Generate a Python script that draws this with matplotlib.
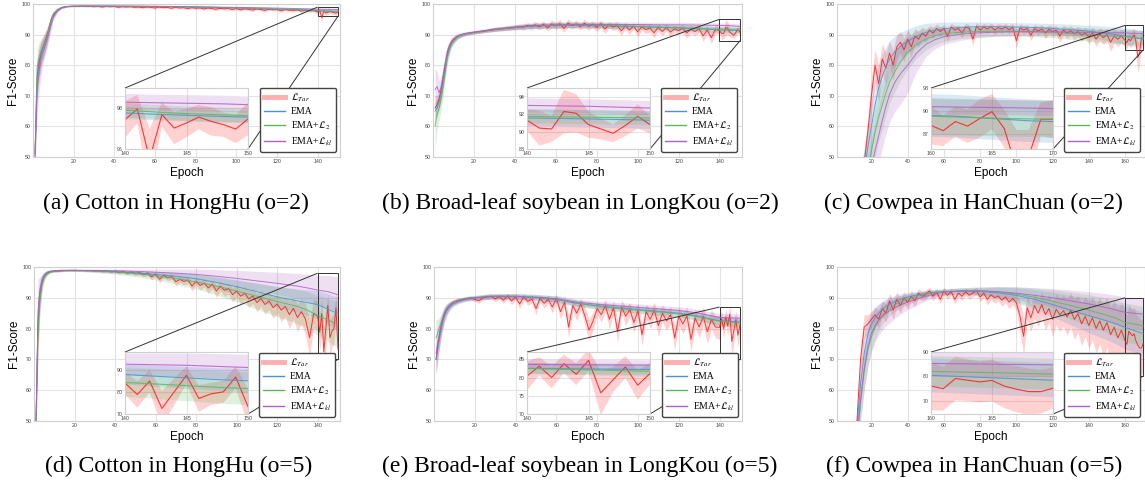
import matplotlib
matplotlib.use("Agg")
import matplotlib.pyplot as plt
from matplotlib.lines import Line2D
from mpl_toolkits.axes_grid1.inset_locator import mark_inset
import numpy as np

plt.rcParams["font.family"] = "Liberation Sans"
plt.rcParams["mathtext.fontset"] = "stix"

# ---------------- data ----------------
# epochs of the smooth curves (EMA, EMA+L2, EMA+Lkl)
ep150 = [1, 2, 3, 4, 5, 6, 7, 8, 9, 10, 12, 14, 16, 18, 20, 25, 30, 40, 50, 60, 70, 80, 90, 100, 110, 120, 130, 135,
         140, 141, 142, 143, 144, 145, 146, 147, 148, 149, 150]
ep170 = [1, 5, 10, 12, 14, 16, 18, 20, 22, 24, 26, 28, 30, 33, 36, 40, 45, 50, 55, 60, 70, 80, 90, 100, 110, 120, 130, 140, 150, 155,
         160, 161, 162, 163, 164, 165, 166, 167, 168, 169, 170]
# epochs of the L_Tar curve
ep_tar150 = list(range(1, 11)) + list(range(12, 140, 2)) + list(range(140, 151))
ep_tar170 = [1] + list(range(2, 160, 2)) + list(range(160, 171))

# (a) Cotton in HongHu (o=2)
a_ema = [50, 74, 80, 83.5, 85.5, 87.5, 89.5, 92, 94.5, 96.3, 98.0, 98.8, 99.1, 99.25, 99.3, 99.35, 99.35, 99.3, 99.25, 99.2, 99.1, 99.0, 98.9, 98.7, 98.5, 98.3, 98.1, 97.95,
         97.77, 97.75, 97.72, 97.7, 97.68, 97.66, 97.64, 97.62, 97.6, 97.58, 97.57]
a_ema_sd = [3, 6, 5, 4, 3.5, 3, 2.5, 2, 1.5, 1, 0.5, 0.3, 0.2, 0.15, 0.1, 0.1, 0.1, 0.1, 0.1, 0.1, 0.15, 0.15, 0.2, 0.2, 0.2, 0.25, 0.25, 0.3,
            0.3, 0.3, 0.3, 0.3, 0.3, 0.3, 0.3, 0.3, 0.3, 0.3, 0.3]
a_l2 = [52, 79.5, 82.5, 84.5, 86, 87.5, 89.5, 92.5, 95, 96.8, 98.2, 98.9, 99.15, 99.25, 99.3, 99.35, 99.35, 99.3, 99.25, 99.2, 99.1, 99.0, 98.9, 98.75, 98.55, 98.35, 98.15, 98.0,
        97.9, 97.87, 97.84, 97.8, 97.77, 97.74, 97.72, 97.7, 97.68, 97.66, 97.64]
a_l2_sd = [3, 6, 5, 4, 3.5, 3, 2.5, 2, 1.5, 1, 0.5, 0.3, 0.2, 0.15, 0.1, 0.1, 0.1, 0.1, 0.1, 0.1, 0.15, 0.15, 0.2, 0.2, 0.25, 0.25, 0.3, 0.3,
           0.35, 0.35, 0.35, 0.35, 0.35, 0.35, 0.35, 0.35, 0.35, 0.35, 0.35]
a_kl = [50, 72, 78, 82, 84.5, 86.5, 88.5, 91, 93.5, 95.8, 97.8, 98.7, 99.1, 99.25, 99.3, 99.35, 99.35, 99.32, 99.3, 99.25, 99.2, 99.1, 99.0, 98.9, 98.8, 98.65, 98.5, 98.4,
        98.3, 98.29, 98.28, 98.27, 98.26, 98.25, 98.24, 98.23, 98.22, 98.2, 98.18]
a_kl_sd = [3, 9, 7, 5, 4, 3.5, 3, 2.5, 2, 1.2, 0.6, 0.3, 0.2, 0.15, 0.1, 0.1, 0.1, 0.1, 0.1, 0.15, 0.15, 0.2, 0.2, 0.25, 0.3, 0.3, 0.35, 0.4,
           0.4, 0.4, 0.4, 0.4, 0.4, 0.4, 0.4, 0.4, 0.4, 0.4, 0.4]
a_tar = [51, 76, 81, 84, 86, 88, 90, 92.5, 95, 96.5,
         98.0, 98.8, 99.1, 99.2, 99.25, 99.2, 99.3, 99.2, 99.25, 99.1,
         99.2, 99.0, 99.2, 99.1, 99.2, 98.9, 99.1, 99.0, 99.1, 98.9,
         99.0, 98.8, 99.0, 98.9, 98.7, 99.0, 98.8, 98.9, 98.6, 98.9,
         98.7, 98.8, 98.5, 98.8, 98.6, 98.7, 98.4, 98.7, 98.5, 98.3,
         98.6, 98.4, 98.5, 98.2, 98.5, 98.1, 98.4, 98.3, 98.0, 98.4,
         98.2, 97.9, 98.3, 98.1, 98.2, 97.8, 98.2, 98.0, 97.9, 98.1,
         97.7, 98.0, 97.8, 97.9,
         97.44, 97.97, 95.5, 97.69, 97.03, 97.28, 97.57, 97.36, 97.2, 96.98, 97.48]
a_tar_sd = [3, 6, 5, 4, 3.5, 3, 2.5, 2, 1.5, 1,
            0.5, 0.3, 0.2, 0.2, 0.2, 0.2, 0.2, 0.2, 0.2, 0.2,
            0.2, 0.3, 0.2, 0.3, 0.2, 0.3, 0.2, 0.3, 0.2, 0.3,
            0.3, 0.3, 0.3, 0.3, 0.4, 0.3, 0.3, 0.3, 0.4, 0.3,
            0.3, 0.3, 0.4, 0.3, 0.4, 0.3, 0.5, 0.3, 0.4, 0.5,
            0.3, 0.4, 0.4, 0.5, 0.4, 0.5, 0.4, 0.4, 0.5, 0.4,
            0.4, 0.5, 0.4, 0.4, 0.4, 0.6, 0.4, 0.5, 0.5, 0.4,
            0.6, 0.5, 0.5, 0.5,
            0.9, 0.7, 1.5, 0.6, 0.8, 0.7, 0.6, 0.7, 0.6, 0.7, 0.8]

# (b) Broad-leaf soybean in LongKou (o=2)
b_ema = [65, 66, 68, 71, 75, 79, 83, 85.5, 87, 88, 89.3, 89.9, 90.2, 90.5, 90.7, 91.2, 91.7, 92.3, 92.8, 93.0, 93.1, 93.0, 92.8, 92.6, 92.4, 92.1, 91.9, 91.7,
         91.56, 91.54, 91.52, 91.5, 91.48, 91.45, 91.42, 91.4, 91.37, 91.34, 91.3]
b_ema_sd = [3, 3, 3, 3, 3, 2.5, 2, 1.5, 1.2, 1, 0.8, 0.6, 0.5, 0.5, 0.5, 0.5, 0.6, 0.7, 0.8, 0.9, 0.9, 0.9, 0.9, 0.9, 0.9, 0.9, 1.0, 1.0,
            1.0, 1.0, 1.0, 1.0, 1.0, 1.0, 1.0, 1.0, 1.0, 1.0, 1.0]
b_l2 = [60, 64, 66, 69, 73, 78, 82.5, 85, 86.8, 87.8, 89.2, 89.9, 90.2, 90.5, 90.7, 91.2, 91.7, 92.4, 92.9, 93.1, 93.2, 93.1, 92.9, 92.7, 92.5, 92.3, 92.1, 91.9,
        91.75, 91.73, 91.71, 91.69, 91.67, 91.65, 91.63, 91.61, 91.6, 91.58, 91.56]
b_l2_sd = [8, 5, 4, 3.5, 3, 2.5, 2, 1.5, 1.2, 1, 0.8, 0.6, 0.5, 0.5, 0.5, 0.5, 0.6, 0.7, 0.8, 0.9, 0.9, 0.9, 0.9, 0.9, 0.9, 0.9, 0.9, 0.8,
           0.8, 0.8, 0.8, 0.8, 0.8, 0.8, 0.8, 0.8, 0.8, 0.8, 0.8]
b_kl = [72, 73, 71, 73, 77, 81, 84.5, 86.5, 87.8, 88.6, 89.6, 90.1, 90.4, 90.6, 90.8, 91.3, 91.8, 92.5, 93.0, 93.2, 93.3, 93.3, 93.3, 93.3, 93.2, 93.2, 93.1, 93.05,
        93.0, 92.98, 92.96, 92.94, 92.92, 92.9, 92.86, 92.82, 92.78, 92.74, 92.7]
b_kl_sd = [7, 5, 4, 3.5, 3, 2.5, 2, 1.5, 1.2, 1, 0.8, 0.7, 0.6, 0.6, 0.6, 0.6, 0.7, 0.8, 0.9, 0.9, 0.9, 0.9, 0.9, 0.8, 0.8, 0.8, 0.8, 0.8,
           0.8, 0.8, 0.8, 0.8, 0.8, 0.8, 0.8, 0.8, 0.8, 0.8, 0.8]
b_tar = [66, 67, 69, 72, 76, 80, 84, 86, 87.5, 88.4,
         89.4, 89.9, 90.3, 90.5, 90.7, 90.9, 91.0, 91.2, 91.4, 91.6,
         91.8, 91.9, 92.0, 92.2, 92.3, 92.6, 92.4, 93.0, 92.6, 93.2,
         92.5, 93.4, 92.2, 93.5, 92.8, 93.6, 92.0, 93.8, 92.9, 93.5,
         92.6, 93.7, 92.7, 93.4, 92.3, 93.6, 91.8, 93.2, 92.5, 93.0,
         91.2, 92.9, 91.5, 92.8, 90.9, 92.6, 91.6, 92.2, 90.6, 92.4,
         91.0, 92.3, 90.8, 91.9, 91.3, 92.1, 90.5, 91.8, 91.0, 91.9,
         89.6, 91.5, 89.0, 91.7,
         91.3, 90.4, 90.3, 92.3, 92.1, 90.8, 90.3, 89.8, 90.7, 91.75, 90.8]
b_tar_sd = [4, 3, 3, 3, 3, 2.5, 2, 1.5, 1.2, 1,
            0.7, 0.6, 0.5, 0.5, 0.5, 0.5, 0.5, 0.5, 0.6, 0.6,
            0.6, 0.7, 0.7, 0.7, 0.8, 0.8, 1.0, 0.9, 1.0, 1.1,
            1.0, 1.2, 1.0, 1.3, 1.1, 1.4, 1.2, 1.3, 1.1, 1.2,
            1.0, 1.3, 1.2, 1.1, 1.3, 1.2, 1.4, 1.1, 1.2, 1.3,
            1.5, 1.2, 1.4, 1.1, 1.6, 1.2, 1.3, 1.4, 1.5, 1.2,
            1.3, 1.2, 1.5, 1.3, 1.2, 1.4, 1.6, 1.3, 1.4, 1.2,
            1.8, 1.3, 1.9, 1.4,
            1.2, 2.0, 1.5, 2.5, 2.2, 1.5, 1.2, 1.0, 1.2, 1.4, 1.0]

# (c) Cowpea in HanChuan (o=2)
c_ema = [10, 20, 30, 35, 40, 46, 53, 60, 67, 72.5, 76.5, 79.5, 82, 84.5, 86.2, 87.8, 89.5, 90.7, 91.4, 91.9, 92.4, 92.6, 92.6, 92.5, 92.3, 92.0, 91.6, 91.1, 90.4, 90.0,
         89.4, 89.35, 89.3, 89.2, 89.1, 89.0, 88.9, 88.8, 88.7, 88.65, 88.6]
c_ema_sd = [5, 5, 5, 5, 6, 7, 8, 8, 8, 8, 7, 6.5, 6, 5, 4.5, 4, 3.5, 3, 2.5, 2.2, 1.8, 1.5, 1.4, 1.4, 1.5, 1.6, 1.8, 2.0, 2.3, 2.5,
            2.8, 2.8, 2.8, 2.8, 2.8, 2.8, 2.8, 2.8, 2.8, 2.8, 2.8]
c_l2 = [8, 15, 25, 30, 35, 40, 46, 52, 58, 63, 67, 71, 74.5, 78, 81, 84.2, 86.8, 88.5, 89.6, 90.3, 90.8, 91.0, 91.1, 91.1, 91.0, 90.8, 90.4, 90.0, 89.6, 89.5,
        89.3, 89.25, 89.2, 89.15, 89.1, 89.05, 89.0, 88.98, 88.95, 88.92, 88.9]
c_l2_sd = [5, 5, 5, 5, 6, 7, 8, 8, 8, 8, 8, 7.5, 7, 6.5, 6, 5.5, 4.5, 3.5, 3, 2.5, 2, 1.8, 1.6, 1.6, 1.7, 1.8, 2, 2.2, 2.3, 2.4,
           2.4, 2.4, 2.4, 2.4, 2.4, 2.4, 2.4, 2.4, 2.4, 2.4, 2.4]
c_kl = [5, 12, 22, 27, 32, 37, 42, 47, 52, 57, 62, 66.5, 70.5, 74.5, 77.2, 80, 84, 86.8, 88.3, 89.3, 90.2, 90.6, 90.8, 90.9, 90.9, 90.9, 90.8, 90.7, 90.6, 90.6,
        90.56, 90.53, 90.5, 90.48, 90.46, 90.44, 90.42, 90.4, 90.37, 90.34, 90.3]
c_kl_sd = [6, 6, 6, 6, 7, 8, 9, 9, 9, 9, 9, 9, 9, 9.5, 10, 9, 6, 4, 3, 2.5, 2, 1.5, 1.3, 1.2, 1.1, 1, 1, 1, 1, 1,
           1, 1, 1, 1, 1, 1, 1, 1, 1, 1, 1]
c_tar = [10,
         12, 15, 20, 25, 30, 35, 40,
         48, 58, 70, 80, 74, 82, 79, 84, 80, 86,
         87.5, 85, 88.5, 86, 89.5, 88.5, 90.5, 89.5, 91.5, 90.5,
         92, 91, 92, 89.5, 92.5, 91.5, 92, 90.5, 92.5, 92,
         88.5, 92.8, 91.5, 92.5, 91.8, 92.6, 91.5, 92.3, 91.8, 92.5,
         91.6, 92.4, 88, 92.2, 91.5, 92, 89.8, 92, 91.2, 91.8,
         90.5, 91.7, 91, 91.4, 89.5, 91.5, 90.5, 91.3, 90.2, 91,
         89.8, 90.6, 89.2, 90.5, 88.5, 90.2, 89, 90, 87.5, 89.5,
         88.5, 89.5,
         88.1, 87.4, 88.6, 88.0, 89.0, 89.9, 87.7, 82.5, 84.0, 88.9, 88.9]
c_tar_sd = [3,
            3, 3, 3, 3, 3, 3, 3,
            4, 5, 6, 5, 6, 5, 5, 4, 5, 4,
            3.5, 4, 3, 3.5, 2.5, 2.5, 2, 2, 1.5, 1.8,
            1.5, 1.5, 1.2, 2, 1.2, 1.4, 1.2, 1.6, 1.2, 1.3,
            2.2, 1.2, 1.4, 1.2, 1.3, 1.2, 1.5, 1.3, 1.4, 1.2,
            1.4, 1.3, 2.5, 1.3, 1.4, 1.3, 1.8, 1.4, 1.5, 1.4,
            1.8, 1.5, 1.6, 1.5, 2.0, 1.6, 1.8, 1.6, 1.8, 1.7,
            2.0, 1.8, 2.2, 1.9, 2.4, 2.0, 2.2, 2.0, 3.0, 2.2,
            2.4, 2.2,
            2.5, 2.0, 2.0, 2.2, 2.5, 2.3, 2.5, 5.0, 3.5, 2.2, 2.5]

# (d) Cotton in HongHu (o=5)
d_ema = [50, 84, 92, 95.5, 97, 97.8, 98.2, 98.5, 98.6, 98.7, 98.8, 98.85, 98.9, 98.9, 98.9, 98.85, 98.8, 98.5, 98.1, 97.6, 97.0, 96.2, 95.0, 93.6, 92.0, 90.3, 89.0, 88.4,
         87.8, 87.5, 87.2, 86.9, 86.6, 86.3, 86.0, 85.7, 85.4, 85.2, 85.0]
d_ema_sd = [3, 8, 4, 2, 1, 0.6, 0.4, 0.3, 0.3, 0.3, 0.3, 0.3, 0.3, 0.3, 0.3, 0.3, 0.4, 0.5, 0.7, 0.9, 1.2, 1.5, 1.9, 2.3, 2.8, 3.3, 3.8, 4.2,
            4.5, 4.6, 4.7, 4.8, 4.9, 5.0, 5.0, 5.1, 5.2, 5.3, 5.4]
d_l2 = [50, 80, 90, 94.5, 96.5, 97.5, 98.0, 98.3, 98.5, 98.6, 98.7, 98.8, 98.85, 98.85, 98.85, 98.8, 98.7, 98.4, 97.9, 97.2, 96.3, 95.2, 93.8, 92.2, 90.5, 88.8, 87.2, 86.0,
        84.2, 84.0, 83.7, 83.4, 83.1, 82.8, 82.5, 82.2, 81.9, 81.7, 81.5]
d_l2_sd = [3, 10, 5, 2.5, 1.2, 0.7, 0.5, 0.4, 0.3, 0.3, 0.3, 0.3, 0.3, 0.3, 0.3, 0.4, 0.5, 0.7, 1.0, 1.4, 1.8, 2.3, 2.9, 3.5, 4.2, 4.9, 5.6, 6.0,
           6.5, 6.6, 6.7, 6.8, 6.9, 7.0, 7.1, 7.2, 7.3, 7.4, 7.5]
d_kl = [50, 86, 93, 96, 97.5, 98.2, 98.5, 98.7, 98.8, 98.85, 98.9, 98.95, 98.95, 98.95, 98.95, 98.9, 98.9, 98.8, 98.6, 98.3, 98.0, 97.6, 97.0, 96.3, 95.5, 94.7, 93.8, 93.2,
        92.5, 92.4, 92.3, 92.2, 92.1, 92.0, 91.8, 91.6, 91.4, 91.2, 91.0]
d_kl_sd = [3, 10, 4, 1.5, 0.8, 0.5, 0.4, 0.3, 0.3, 0.3, 0.3, 0.3, 0.3, 0.3, 0.3, 0.3, 0.4, 0.5, 0.7, 1.0, 1.3, 1.7, 2.1, 2.6, 3.1, 3.6, 4.1, 4.5,
           4.8, 4.9, 5.0, 5.1, 5.2, 5.3, 5.4, 5.5, 5.6, 5.7, 5.8]
d_tar = [50, 82, 91, 95, 96.8, 97.6, 98.1, 98.4, 98.5, 98.6,
         98.7, 98.8, 98.85, 98.9, 98.9, 98.85, 98.9, 98.8, 98.85, 98.7,
         98.8, 98.5, 98.7, 98.4, 98.6, 98.2, 98.5, 98.0, 98.4, 97.8,
         98.2, 97.5, 98.0, 96.8, 97.7, 96.0, 97.3, 96.5, 96.9, 95.2,
         96.0, 95.3, 95.8, 93.8, 95.4, 94.0, 94.8, 93.2, 94.4, 92.2,
         93.8, 92.4, 93.0, 91.0, 92.2, 90.5, 91.5, 89.6, 90.6, 88.4,
         89.8, 87.8, 89.0, 86.8, 88.0, 86.0, 87.2, 84.5, 86.6, 83.6,
         85.5, 83.0, 77.0, 85.0,
         84.0, 78.8, 84.9, 72.5, 80.0, 87.5, 77.0, 79.1, 80.0, 86.7, 73.3]
d_tar_sd = [3, 8, 4, 2, 1, 0.6, 0.4, 0.3, 0.3, 0.3,
            0.3, 0.3, 0.3, 0.3, 0.3, 0.3, 0.3, 0.3, 0.3, 0.3,
            0.3, 0.4, 0.3, 0.4, 0.4, 0.5, 0.4, 0.5, 0.5, 0.6,
            0.5, 0.7, 0.6, 1.0, 0.7, 1.2, 0.8, 1.0, 0.9, 1.4,
            1.0, 1.2, 1.1, 1.6, 1.2, 1.5, 1.3, 1.8, 1.4, 2.0,
            1.6, 1.9, 1.8, 2.3, 2.0, 2.5, 2.2, 2.8, 2.4, 3.0,
            2.6, 3.2, 2.8, 3.5, 3.0, 3.8, 3.2, 4.5, 3.5, 4.5,
            4.0, 5.0, 6.0, 4.5,
            5.0, 6.0, 5.0, 8.0, 6.0, 4.0, 6.0, 5.0, 5.0, 5.0, 8.0]

# (e) Broad-leaf soybean in LongKou (o=5)
e_ema = [70, 74, 78, 81.5, 84, 85.5, 86.5, 87.2, 87.8, 88.2, 88.8, 89.2, 89.5, 89.7, 89.9, 90.2, 90.4, 90.3, 90.0, 89.4, 88.2, 87.4, 86.8, 86.2, 85.6, 85.0, 84.0, 83.2,
         82.5, 82.47, 82.44, 82.41, 82.38, 82.35, 82.32, 82.29, 82.26, 82.23, 82.2]
e_ema_sd = [5, 4, 3.5, 3, 2.5, 2, 1.5, 1.2, 1, 0.9, 0.8, 0.7, 0.7, 0.7, 0.7, 0.8, 0.8, 0.9, 0.9, 1.0, 1.0, 1.0, 1.1, 1.1, 1.2, 1.2, 1.3, 1.4,
            1.5, 1.5, 1.5, 1.5, 1.5, 1.5, 1.5, 1.5, 1.5, 1.5, 1.5]
e_l2 = [77, 79, 81, 83, 85, 86.3, 87.2, 87.8, 88.3, 88.7, 89.2, 89.5, 89.8, 90.0, 90.1, 90.4, 90.6, 90.5, 90.2, 89.6, 88.3, 87.3, 86.6, 86.0, 85.4, 84.8, 83.8, 83.0,
        82.5, 82.42, 82.34, 82.26, 82.18, 82.1, 82.02, 81.94, 81.86, 81.78, 81.7]
e_l2_sd = [6, 4, 3, 2.5, 2, 1.6, 1.3, 1.1, 1, 0.9, 0.8, 0.7, 0.7, 0.7, 0.7, 0.8, 0.8, 0.9, 0.9, 1.0, 1.0, 1.0, 1.1, 1.1, 1.2, 1.2, 1.3, 1.4,
           1.5, 1.5, 1.5, 1.5, 1.5, 1.5, 1.5, 1.5, 1.5, 1.5, 1.5]
e_kl = [72, 76, 79.5, 82.5, 84.5, 86, 87, 87.7, 88.2, 88.6, 89.1, 89.4, 89.7, 89.9, 90.0, 90.3, 90.5, 90.5, 90.2, 89.7, 88.6, 87.9, 87.4, 86.9, 86.4, 85.9, 85.0, 84.3,
        83.6, 83.58, 83.56, 83.54, 83.52, 83.5, 83.48, 83.46, 83.44, 83.42, 83.4]
e_kl_sd = [7, 5, 4, 3, 2.5, 2, 1.5, 1.2, 1, 0.9, 0.8, 0.7, 0.7, 0.7, 0.7, 0.8, 0.8, 0.9, 0.9, 1.0, 1.0, 1.0, 1.1, 1.1, 1.1, 1.2, 1.2, 1.2,
           1.3, 1.3, 1.3, 1.3, 1.3, 1.3, 1.3, 1.3, 1.3, 1.3, 1.3]
e_tar = [70, 75, 79, 82, 84.5, 86, 87, 87.8, 88.3, 88.7,
         89.2, 89.5, 89.8, 89.9, 89.5, 89.0, 90.0, 90.3, 90.5, 89.6,
         90.4, 89.2, 90.6, 89.0, 90.2, 88.0, 90.3, 88.8, 89.6, 86.5,
         89.8, 88.2, 89.5, 87.0, 89.8, 85.5, 88.5, 80.5, 87.5, 85.0,
         88.0, 84.0, 79.5, 82.5, 86.5, 84.5, 87.5, 83.0, 86.8, 79.0,
         87.0, 84.0, 86.2, 82.0, 85.8, 78.0, 85.5, 83.0, 86.0, 81.0,
         85.0, 82.5, 84.5, 77.0, 84.0, 81.5, 84.2, 76.5, 83.5, 80.5,
         84.0, 79.0, 83.0, 80.5,
         80.4, 83.1, 80.0, 83.8, 80.9, 84.7, 75.8, 79.4, 82.9, 77.9, 81.1]
e_tar_sd = [4, 3.5, 3, 2.5, 2, 1.5, 1.2, 1, 0.9, 0.8,
            0.7, 0.6, 0.6, 0.6, 0.7, 0.8, 0.7, 0.8, 0.8, 0.9,
            0.8, 1.0, 0.9, 1.2, 1.0, 1.5, 1.0, 1.3, 1.2, 2.0,
            1.2, 1.5, 1.3, 2.0, 1.4, 2.5, 1.5, 3.5, 1.8, 2.5,
            1.8, 3.0, 3.5, 3.0, 2.0, 2.5, 2.0, 3.0, 2.2, 3.5,
            2.2, 3.0, 2.2, 3.2, 2.5, 3.5, 2.5, 3.0, 2.5, 3.5,
            2.8, 3.0, 2.8, 3.8, 2.8, 3.2, 3.0, 4.0, 3.0, 3.5,
            3.0, 3.8, 3.2, 3.5,
            4, 2.5, 3, 2.5, 3, 3, 6, 3.5, 3, 4, 3]

# (f) Cowpea in HanChuan (o=5)
f_ema = [10, 20, 35, 48, 62, 72, 78, 81.5, 83.5, 85, 86.2, 87.2, 88, 88.8, 89.5, 90.2, 90.9, 91.4, 91.8, 92.0, 92.1, 92.0, 91.6, 90.8, 89.5, 87.8, 86.0, 84.2, 82.5, 81.6,
         80.4, 80.2, 80.0, 79.8, 79.6, 79.4, 79.2, 79.0, 78.8, 78.6, 78.4]
f_ema_sd = [3, 3, 3, 4, 6, 6, 5, 4, 3.5, 3, 2.7, 2.5, 2.3, 2, 1.8, 1.5, 1.2, 1.0, 0.9, 0.8, 0.9, 1.2, 1.8, 2.5, 3.2, 4, 4.8, 5.5, 6.2, 6.6,
            7, 7, 7, 7, 7, 7, 7, 7, 7, 7, 7]
f_l2 = [10, 18, 30, 42, 56, 66, 73, 77.5, 80.5, 82.7, 84.3, 85.6, 86.6, 87.8, 88.7, 89.6, 90.5, 91.2, 91.7, 92.0, 92.2, 92.2, 91.9, 91.2, 90.2, 88.9, 87.5, 86.0, 84.3, 83.4,
        82.0, 81.9, 81.8, 81.7, 81.6, 81.5, 81.4, 81.3, 81.1, 81.0, 80.9]
f_l2_sd = [3, 3, 3, 4, 6, 6, 5.5, 4.5, 4, 3.5, 3, 2.7, 2.5, 2.2, 2, 1.7, 1.4, 1.1, 1.0, 0.9, 1.0, 1.3, 1.8, 2.4, 3.0, 3.7, 4.4, 5.0, 5.6, 6.0,
           6.3, 6.3, 6.3, 6.3, 6.3, 6.3, 6.3, 6.3, 6.3, 6.3, 6.3]
f_kl = [10, 18, 32, 44, 57, 67, 74, 78.5, 81, 82.8, 84, 85, 85.8, 86.8, 87.7, 88.6, 89.6, 90.5, 91.3, 91.9, 92.3, 92.3, 92.0, 91.5, 90.8, 90.0, 89.0, 88.0, 86.8, 86.0,
        85.3, 85.24, 85.18, 85.12, 85.06, 85.0, 84.94, 84.88, 84.82, 84.76, 84.7]
f_kl_sd = [4, 4, 5, 6, 7, 7, 6.5, 6, 5.5, 5, 4.5, 4.2, 4, 3.5, 3, 2.5, 2, 1.5, 1.2, 1.0, 1.0, 1.2, 1.6, 2.0, 2.5, 3.0, 3.5, 4.0, 4.5, 4.8,
           5, 5, 5, 5, 5, 5, 5, 5, 5, 5, 5]
f_tar = [10,
         12, 15, 18, 22, 30, 50, 70,
         80.5, 81.5, 83, 84.5, 83, 86.5, 85, 89, 86, 89.5,
         87.5, 90, 88.5, 90.5, 89, 91.5, 90.5, 91, 92.3, 90.5,
         91.8, 89.5, 92.2, 90.8, 92, 89.5, 91.5, 90.5, 92, 90.8,
         91.6, 92.2, 90.3, 91.5, 89.5, 91, 90, 90.6, 89.2, 90.3,
         88.6, 89.8, 88.4, 84, 77.5, 86.8, 83.5, 87.5, 85, 87.8,
         84.5, 86.5, 83, 86.3, 84.5, 85.8, 83.8, 86, 83, 84.8,
         81.5, 84, 81, 83.5, 80, 82.5, 79.5, 82, 78, 80.5,
         77, 79.5,
         76.0, 74.9, 79.1, 78.4, 77.7, 78.3, 76.0, 74.7, 73.7, 73.7, 75.1]
f_tar_sd = [3,
            3, 3, 3, 3, 3, 4, 5,
            4, 3, 2.5, 2.5, 3, 2.5, 3, 2.5, 3, 2.5,
            2.5, 2, 2, 1.8, 2, 1.5, 1.5, 1.5, 1.2, 1.5,
            1.2, 1.5, 1.2, 1.3, 1.2, 1.5, 1.2, 1.3, 1.2, 1.3,
            1.3, 1.2, 1.5, 1.3, 1.8, 1.5, 1.8, 1.6, 2.0, 1.8,
            2.2, 2.0, 2.5, 5.0, 6.0, 4.0, 4.5, 4.0, 4.5, 4.0,
            5.0, 4.5, 5.5, 5.0, 5.5, 5.0, 6.0, 5.5, 6.5, 6.0,
            7.0, 6.5, 7.5, 7.0, 8.0, 7.5, 8.5, 8.0, 9.0, 8.5,
            9.5, 9.0,
            10, 9, 9, 8.5, 8.5, 8.6, 9, 9.5, 9.5, 9, 8.5]

captions = ["(a) Cotton in HongHu (o=2)", "(b) Broad-leaf soybean in LongKou (o=2)", "(c) Cowpea in HanChuan (o=2)",
            "(d) Cotton in HongHu (o=5)", "(e) Broad-leaf soybean in LongKou (o=5)", "(f) Cowpea in HanChuan (o=5)"]
labels = [r"$\mathcal{L}_{Tar}$", "EMA", r"EMA+$\mathcal{L}_2$", r"EMA+$\mathcal{L}_{kl}$"]

# ---------------- drawing ----------------
C_TAR = "#ff1a1a"
C_EMA = "#4a92d4"
C_L2 = "#5cb85c"
C_KL = "#b060c6"

W, H = 1145, 483
fig = plt.figure(figsize=(W / 100, H / 100), dpi=100)


def px(x0, y0, x1, y1):
    return [x0 / W, 1 - y1 / H, (x1 - x0) / W, (y1 - y0) / H]


def style(ax, fs):
    ax.set_facecolor("white")
    ax.grid(True, color="#e3e3e3", lw=0.8)
    ax.set_axisbelow(True)
    for sp in ax.spines.values():
        sp.set_color("#d0d0d0")
        sp.set_linewidth(0.8)
    ax.tick_params(length=0, labelsize=fs, pad=1.5, colors="#444444")


def curves(ax, d, lw):
    sets = [(d["ept"], d["tar"], d["tar_sd"], C_TAR),
            (d["ep"], d["ema"], d["ema_sd"], C_EMA),
            (d["ep"], d["l2"], d["l2_sd"], C_L2),
            (d["ep"], d["kl"], d["kl_sd"], C_KL)]
    for x, m, s, c in sets:
        m = np.array(m, dtype=float)
        s = np.array(s, dtype=float)
        ax.fill_between(x, m - s, m + s, color=c, alpha=0.2, lw=0)
        ax.plot(x, m, color=c, lw=lw, alpha=0.85)


panels = [
    dict(ep=ep150, ept=ep_tar150, tar=a_tar, tar_sd=a_tar_sd, ema=a_ema, ema_sd=a_ema_sd, l2=a_l2, l2_sd=a_l2_sd,
         kl=a_kl, kl_sd=a_kl_sd, xlim=(0, 151), xt=range(20, 141, 20), zx=(140, 150), zy=(96, 99), zt=[96, 98],
         ax=(33, 4, 340, 157), ins=(125, 88, 248, 149), leg=(336, 152), cap=(176, 203)),
    dict(ep=ep150, ept=ep_tar150, tar=b_tar, tar_sd=b_tar_sd, ema=b_ema, ema_sd=b_ema_sd, l2=b_l2, l2_sd=b_l2_sd,
         kl=b_kl, kl_sd=b_kl_sd, xlim=(0, 151), xt=range(20, 141, 20), zx=(140, 150), zy=(88, 95), zt=[88, 90, 92, 94],
         ax=(433, 4, 742, 157), ins=(527, 88, 650, 149), leg=(737, 152), cap=(580, 203)),
    dict(ep=ep170, ept=ep_tar170, tar=c_tar, tar_sd=c_tar_sd, ema=c_ema, ema_sd=c_ema_sd, l2=c_l2, l2_sd=c_l2_sd,
         kl=c_kl, kl_sd=c_kl_sd, xlim=(1, 171), xt=range(20, 161, 20), zx=(160, 170), zy=(85, 93), zt=[87, 90, 93],
         ax=(837, 4, 1145, 157), ins=(931, 88, 1053, 149), leg=(1140, 152), cap=(973, 203)),
    dict(ep=ep150, ept=ep_tar150, tar=d_tar, tar_sd=d_tar_sd, ema=d_ema, ema_sd=d_ema_sd, l2=d_l2, l2_sd=d_l2_sd,
         kl=d_kl, kl_sd=d_kl_sd, xlim=(0, 151), xt=range(20, 141, 20), zx=(140, 150), zy=(70, 98), zt=[70, 80, 90],
         ax=(34, 267, 340, 421), ins=(125, 352, 248, 414), leg=(335, 417), cap=(179, 466)),
    dict(ep=ep150, ept=ep_tar150, tar=e_tar, tar_sd=e_tar_sd, ema=e_ema, ema_sd=e_ema_sd, l2=e_l2, l2_sd=e_l2_sd,
         kl=e_kl, kl_sd=e_kl_sd, xlim=(0, 151), xt=range(20, 141, 20), zx=(140, 150), zy=(70, 87), zt=[70, 75, 80, 85],
         ax=(434, 267, 742, 421), ins=(527, 352, 650, 414), leg=(738, 417), cap=(580, 466)),
    dict(ep=ep170, ept=ep_tar170, tar=f_tar, tar_sd=f_tar_sd, ema=f_ema, ema_sd=f_ema_sd, l2=f_l2, l2_sd=f_l2_sd,
         kl=f_kl, kl_sd=f_kl_sd, xlim=(1, 171), xt=range(20, 161, 20), zx=(160, 170), zy=(64.5, 90), zt=[70, 80, 90],
         ax=(837, 267, 1145, 421), ins=(931, 352, 1053, 414), leg=(1140, 417), cap=(974, 466)),
]

handles = [Line2D([], [], color=C_TAR, lw=3.5, alpha=0.35),
           Line2D([], [], color=C_EMA, lw=1.0),
           Line2D([], [], color=C_L2, lw=1.0),
           Line2D([], [], color=C_KL, lw=1.0)]

for i, p in enumerate(panels):
    ax = fig.add_axes(px(*p["ax"]))
    style(ax, 3.8)
    curves(ax, p, 0.7)
    ax.set_xlim(*p["xlim"])
    ax.set_ylim(50, 100)
    ax.set_xticks(list(p["xt"]))
    ax.set_yticks([50, 60, 70, 80, 90, 100])
    ax.set_xlabel("Epoch", fontsize=8.5, labelpad=2)
    ax.set_ylabel("F1-Score", fontsize=8.5, labelpad=2)

    axins = fig.add_axes(px(*p["ins"]))
    style(axins, 3.8)
    curves(axins, p, 0.8)
    axins.set_xlim(*p["zx"])
    axins.set_ylim(*p["zy"])
    axins.set_xticks([p["zx"][0], p["zx"][0] + 5, p["zx"][1]])
    axins.set_yticks(p["zt"])
    mark_inset(ax, axins, loc1=2, loc2=4, fc="none", ec="#333333", lw=0.7)

    fig.legend(handles, labels, loc="lower right", bbox_to_anchor=(p["leg"][0] / W, 1 - p["leg"][1] / H),
               prop={"family": "Liberation Serif", "size": 7}, frameon=True, fancybox=True, framealpha=1,
               edgecolor="#444444", borderpad=0.4, labelspacing=0.35, handlelength=2.2, handletextpad=0.6,
               borderaxespad=0)

    fig.text(p["cap"][0] / W, 1 - p["cap"][1] / H, captions[i], ha="center", va="center",
             fontsize=17, family="Liberation Serif")

fig.savefig("out.png", dpi=100)
